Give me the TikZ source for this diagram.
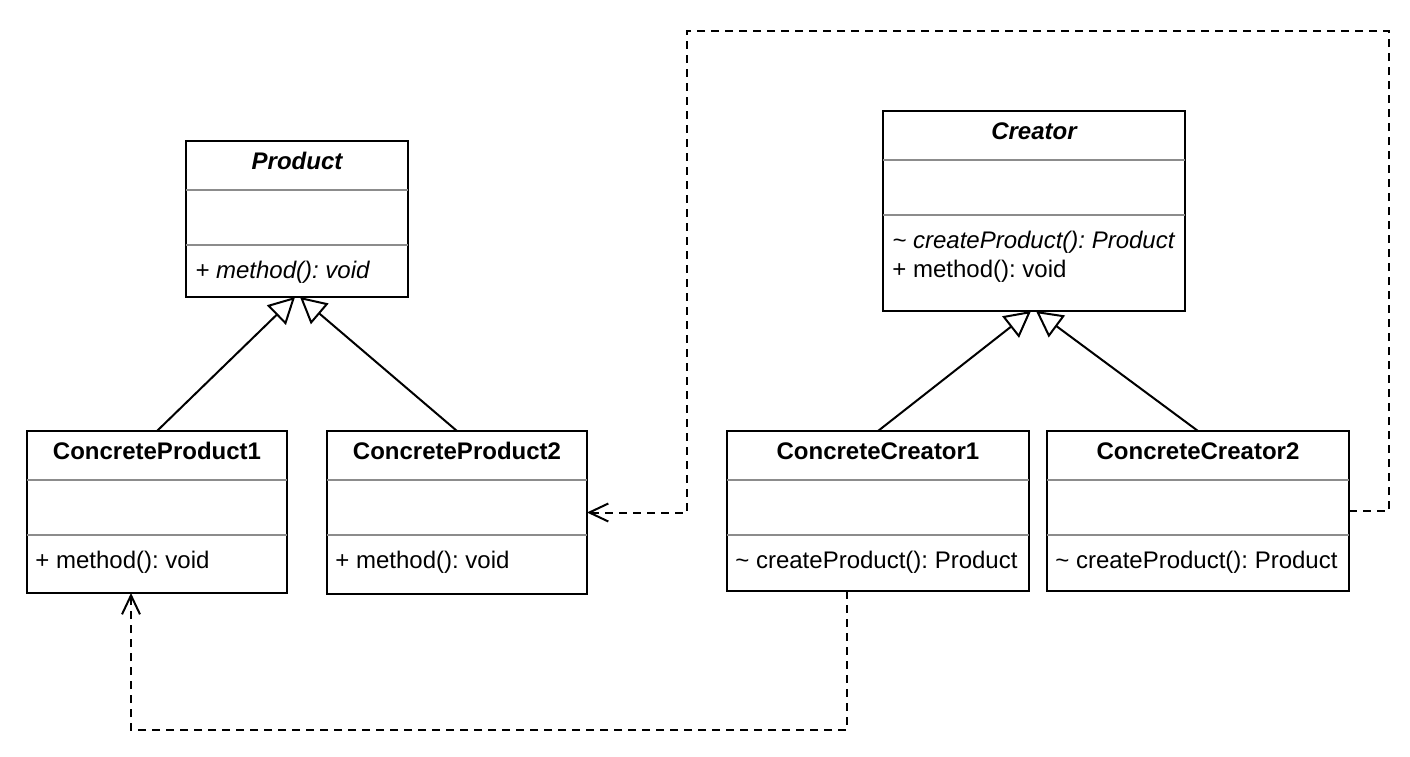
\documentclass[tikz,border=0pt]{standalone}
\usepackage{fontspec}
\setmainfont{Liberation Sans}
\usetikzlibrary{arrows.meta,calc}
\definecolor{sepgray}{HTML}{8C8C8C}
\frenchspacing
\newcommand{\umlbox}[6]{%
  \node[classbox, minimum width=#4*0.5pt, minimum height=#5*0.5pt, anchor=north west] (#1) at (#2,#3) {};
  \node[titletext] (#1-t) at ($(#1.north)+(0,28)$) {#6};
  \draw[sepline] ($(#1.north west)+(0,49)$) -- ($(#1.north east)+(0,49)$);
  \draw[sepline] ($(#1.north west)+(0,104)$) -- ($(#1.north east)+(0,104)$);
}
\begin{document}
\begin{tikzpicture}[x=0.5pt,y=-0.5pt,
  font=\fontsize{12}{14.5}\selectfont\frenchspacing,
  classbox/.style={draw=black, line width=1pt, fill=white, inner sep=0pt, outer sep=0pt},
  sepline/.style={draw=sepgray, line width=1pt},
  titletext/.style={font=\fontsize{12}{14.5}\selectfont\bfseries, anchor=base, inner sep=0pt},
  memtext/.style={anchor=base west, inner sep=0pt},
  inherit/.style={draw, line width=1pt, -{Triangle[open, length=13pt, width=13.5pt]}},
  depend/.style={draw, line width=1pt, dash pattern=on 4pt off 3pt, -{Straight Barb[length=9.5pt, width=9pt]}}]
\useasboundingbox (0,0) rectangle (1410,756);

\umlbox{P}{186}{141}{222}{156}{\itshape Product}
\umlbox{C}{883}{111}{302}{200}{\itshape Creator}
\umlbox{CPa}{27}{431}{260}{162}{ConcreteProduct1}
\umlbox{CPb}{327}{431}{260}{163}{ConcreteProduct2}
\umlbox{CCa}{727}{431}{302}{160}{ConcreteCreator1}
\umlbox{CCb}{1047}{431}{302}{160}{ConcreteCreator2}

\node[memtext] (P-m1) at ($(P.north west)+(9,137)$) {\itshape + method(): void};
\node[memtext] (C-m1) at ($(C.north west)+(9,137)$) {\itshape \textasciitilde{} createProduct(): Product};
\node[memtext] (C-m2) at ($(C.north west)+(9,166)$) {+ method(): void};
\node[memtext] (CPa-m1) at ($(CPa.north west)+(8,137)$) {+ method(): void};
\node[memtext] (CPb-m1) at ($(CPb.north west)+(8,137)$) {+ method(): void};
\node[memtext] (CCa-m1) at ($(CCa.north west)+(8,137)$) {\textasciitilde{} createProduct(): Product};
\node[memtext] (CCb-m1) at ($(CCb.north west)+(8,137)$) {\textasciitilde{} createProduct(): Product};

% inheritance
\draw[inherit] (CPa.north) -- ($(P.south)+(-2,0)$);
\draw[inherit] (CPb.north) -- ($(P.south)+(3,0)$);
\draw[inherit] (CCa.north) -- ($(C.south)+(-3,0)$);
\draw[inherit] (CCb.north) -- ($(C.south)+(2,0)$);

% dependencies
\coordinate (r1) at (1389,31);
\coordinate (r2) at (687,31);
\draw[depend] (CCb.east) -| (r1) -- (r2) |- (CPb.east);
\coordinate (b1) at (847,730);
\coordinate (b2) at (131,730);
\draw[depend] ($(CCa.south)+(-31,0)$) -- (b1) -- (b2) -- ($(CPa.south)+(-26,0)$);
\end{tikzpicture}
\end{document}
